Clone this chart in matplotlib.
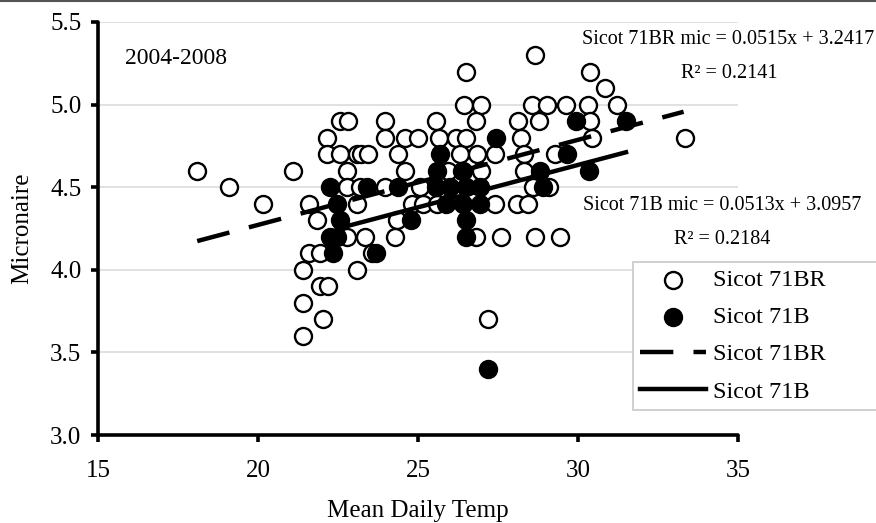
import matplotlib
matplotlib.use("Agg")
import matplotlib.pyplot as plt
from matplotlib.lines import Line2D
import numpy as np

plt.rcParams['font.family'] = ['Liberation Serif', 'DejaVu Serif']
plt.rcParams['lines.scale_dashes'] = False

# ---- data ----
br_temp = [28.66,
           26.5, 30.38,
           30.84,
           26.45, 26.97, 28.55, 29.02, 29.64, 30.3, 31.22,
           22.56, 22.82, 23.98, 25.56, 26.8, 28.13, 28.78, 30.37,
           22.15, 23.98, 24.6, 25.0, 25.67, 26.18, 26.5, 28.22, 30.45, 33.34,
           22.15, 22.56, 23.08, 23.22, 23.45, 24.38, 26.3, 26.83, 27.41, 28.3, 29.28,
           18.1, 21.08, 22.77, 24.6, 25.95, 26.36, 26.97, 28.3,
           19.1, 22.77, 23.19, 23.98, 25.06, 28.6, 29.1,
           20.15, 21.6, 23.08, 24.8, 25.17, 25.58, 27.4, 28.08, 28.45,
           21.83, 24.33,
           22.77, 23.34, 24.28, 26.8, 27.6, 28.66, 29.44,
           21.6, 21.94, 23.55,
           21.42, 23.08,
           21.94, 22.2,
           21.42,
           22.04, 27.2,
           21.42]
br_mic = [5.3,
          5.2, 5.2,
          5.1,
          5.0, 5.0, 5.0, 5.0, 5.0, 5.0, 5.0,
          4.9, 4.9, 4.9, 4.9, 4.9, 4.9, 4.9, 4.9,
          4.8, 4.8, 4.8, 4.8, 4.8, 4.8, 4.8, 4.8, 4.8, 4.8,
          4.7, 4.7, 4.7, 4.7, 4.7, 4.7, 4.7, 4.7, 4.7, 4.7, 4.7,
          4.6, 4.6, 4.6, 4.6, 4.6, 4.6, 4.6, 4.6,
          4.5, 4.5, 4.5, 4.5, 4.5, 4.5, 4.5,
          4.4, 4.4, 4.4, 4.4, 4.4, 4.4, 4.4, 4.4, 4.4,
          4.3, 4.3,
          4.2, 4.2, 4.2, 4.2, 4.2, 4.2, 4.2,
          4.1, 4.1, 4.1,
          4.0, 4.0,
          3.9, 3.9,
          3.8,
          3.7, 3.7,
          3.6]

b_temp = [29.93, 31.5,
          27.43,
          25.68, 29.65,
          25.58, 26.4, 28.8, 30.35,
          22.25, 23.42, 24.38, 25.55, 26.0, 26.5, 26.94, 28.9,
          22.46, 25.87, 26.4, 26.94,
          22.56, 24.78, 26.5,
          22.25, 22.46, 26.5,
          22.35, 23.68,
          27.2]
b_mic = [4.9, 4.9,
         4.8,
         4.7, 4.7,
         4.6, 4.6, 4.6, 4.6,
         4.5, 4.5, 4.5, 4.5, 4.5, 4.5, 4.5, 4.5,
         4.4, 4.4, 4.4, 4.4,
         4.3, 4.3, 4.3,
         4.2, 4.2, 4.2,
         4.1, 4.1,
         3.4]

br_slope, br_icept = 0.0515, 3.2417
b_slope, b_icept = 0.0513, 3.0957
br_range = [18.1, 33.3]
b_range = [22.7, 31.5]

x_ticks = [15, 20, 25, 30, 35]
y_ticks = [3.0, 3.5, 4.0, 4.5, 5.0, 5.5]

# ---- figure ----
fig = plt.figure(figsize=(8.76, 5.23), dpi=100)
ax = fig.add_axes([98/876, 1-435/523, (738-98)/876, (435-22)/523])

for yv in y_ticks[1:]:
    ax.axhline(yv, color='#dedede', lw=1.3, zorder=0)

ax.scatter(br_temp, br_mic, s=150, facecolor='white', edgecolor='black',
           linewidth=1.7, zorder=3, label='Sicot 71BR')
ax.scatter(b_temp, b_mic, s=150, facecolor='black', edgecolor='black',
           linewidth=1.7, zorder=4, label='Sicot 71B')

xb = np.array(br_range)
ax.plot(xb, br_slope*xb + br_icept, color='black', lw=3.2,
        linestyle=(0, (24, 14.5)), zorder=5, label='Sicot 71BR')
xs = np.array(b_range)
ax.plot(xs, b_slope*xs + b_icept, color='black', lw=3.2, zorder=5,
        label='Sicot 71B')

ax.set_xlim(15, 35)
ax.set_ylim(3.0, 5.5)
ax.set_xticks(x_ticks)
ax.set_yticks(y_ticks)
ax.set_yticklabels([f"{v:.1f}" for v in y_ticks])
ax.set_xticklabels([str(v) for v in x_ticks])
for s in ['top', 'right']:
    ax.spines[s].set_visible(False)
for s in ['left', 'bottom']:
    ax.spines[s].set_linewidth(2.6)
    ax.spines[s].set_capstyle('round')
ax.tick_params(direction='out', length=5, width=2.6, labelsize=18,
               pad=7, colors='black')
ax.tick_params(axis='x', pad=13)

ax.set_xlabel('Mean Daily Temp', fontsize=18)
ax.set_ylabel('Micronaire', fontsize=18)
ax.xaxis.set_label_coords(0.5, (435-511)/413)
ax.xaxis.label.set_va('center')
ax.yaxis.set_label_coords((22-98)/640, 0.5)
ax.yaxis.label.set_va('center')

ax.text(15.85, 5.28, '2004-2008', fontsize=17, ha='left', va='center')

fig.text(728/876, 1-40/523, 'Sicot 71BR mic = 0.0515x + 3.2417',
         fontsize=14.5, ha='center', va='center')
fig.text(729/876, 1-73/523, 'R\u00b2 = 0.2141', fontsize=14.5,
         ha='center', va='center')
fig.text(722/876, 1-205/523, 'Sicot 71B mic = 0.0513x + 3.0957',
         fontsize=14.5, ha='center', va='center')
fig.text(722/876, 1-240/523, 'R\u00b2 = 0.2184', fontsize=14.5,
         ha='center', va='center')

leg = fig.legend(loc='upper left',
                 bbox_to_anchor=(633/876, 1-262/523, 0.32, 0),
                 mode='expand', fontsize=17.5, frameon=True,
                 fancybox=False, edgecolor='#c8c8c8', framealpha=1,
                 handlelength=2.7, labelspacing=0.62, borderpad=0.3,
                 handletextpad=0.3, borderaxespad=0)
leg.get_frame().set_linewidth(1.2)

fig.add_artist(Line2D([0, 1], [0.998, 0.998], transform=fig.transFigure,
                      color='#555555', lw=1.5))

fig.savefig('out.png', dpi=100)
